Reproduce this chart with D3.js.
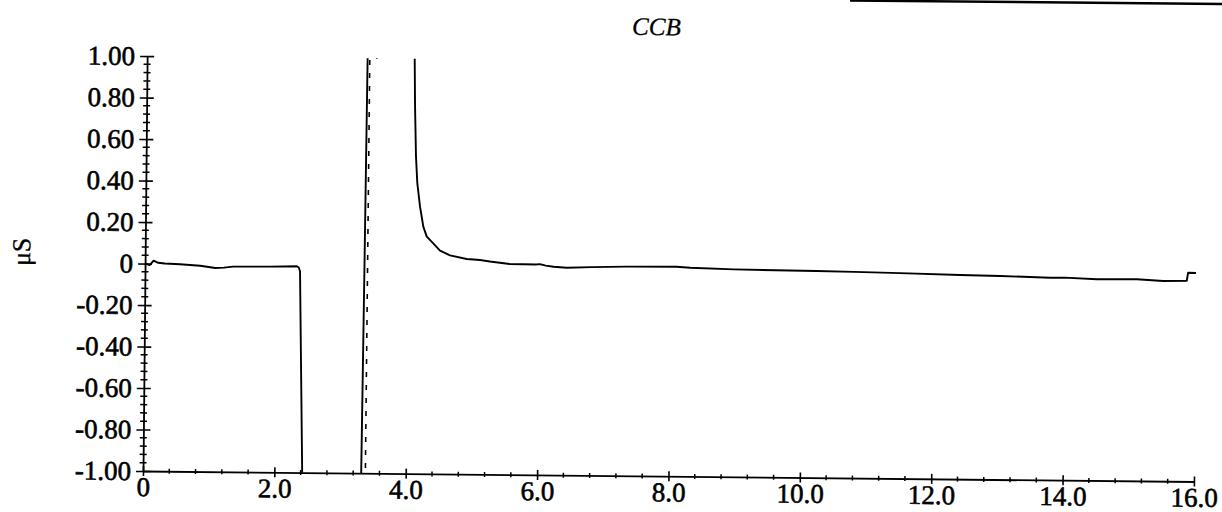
<!DOCTYPE html>
<html><head><meta charset="utf-8">
<script src="https://cdn.jsdelivr.net/npm/d3@7"></script>
<style>html,body{margin:0;padding:0;background:#fff;overflow:hidden}</style>
</head><body><svg id="c" width="1222" height="512"></svg>
<script>
const title = "CCB";
const yLabel = "μS";
const xTickValues = [0, 2, 4, 6, 8, 10, 12, 14, 16];
const xTickLabels = ["0", "2.0", "4.0", "6.0", "8.0", "10.0", "12.0", "14.0", "16.0"];
const yTickValues = [1, 0.8, 0.6, 0.4, 0.2, 0, -0.2, -0.4, -0.6, -0.8, -1];
const yTickLabels = ["1.00", "0.80", "0.60", "0.40", "0.20", "0", "-0.20", "-0.40", "-0.60", "-0.80", "-1.00"];

// solid trace (time in min, conductivity in µS); values beyond ±1 are clipped
const solidTime = [0, 0.07, 0.13, 0.2, 0.3, 0.53, 0.84, 1.07, 1.2, 1.34, 1.9, 2.31, 2.34, 2.36, 2.43, 3.32, 3.34, 3.36,
  4.06, 4.073, 4.086, 4.108, 4.132, 4.177, 4.23, 4.284, 4.384, 4.488, 4.641, 4.896, 5.098, 5.25, 5.55, 5.95, 6.01, 6.1,
  6.22, 6.42, 6.8, 7.33, 8.09, 8.3, 8.96, 9.6, 10.22, 10.8, 11.49, 12.41, 13.02, 13.78, 14.0, 14.49, 15.1, 15.5, 15.86, 15.88, 16.0];
const solidValue = [0.0, -0.008, 0.014, 0.004, 0.001, -0.002, -0.008, -0.018, -0.016, -0.011, -0.009, -0.006, -0.012, -0.03, -1.1, -1.1, -0.02, 1.2,
  1.2, 1.01, 0.769, 0.528, 0.4, 0.287, 0.191, 0.143, 0.111, 0.076, 0.054, 0.037, 0.033, 0.026, 0.0155, 0.014, 0.016, 0.009,
  0.004, 0.0, 0.004, 0.008, 0.01, 0.006, 0.0, -0.002, -0.004, -0.006, -0.01, -0.016, -0.019, -0.025, -0.024, -0.03, -0.028, -0.035, -0.033, 0.006, 0.005];

// dashed trace (second run), visible only at the peak front
const dashedTime = [3.385, 3.39, 3.51];
const dashedValue = [-1.1, 1.0, 1.0];

const ox = 143, oy = 471, plotW = 1051, plotH = 415, angle = 0.572;
const font = "'Liberation Serif','Times New Roman',serif";

const svg = d3.select("#c");
// scanned page edge at top right
svg.append("line").attr("x1", 850).attr("y1", 0.5).attr("x2", 1222).attr("y2", 4)
  .attr("stroke", "#000").attr("stroke-width", 2.5);

const g = svg.append("g").attr("transform", `translate(${ox},${oy}) rotate(${angle})`);
const x = d3.scaleLinear().domain([0, 16]).range([0, plotW]);
const y = d3.scaleLinear().domain([-1, 1]).range([0, -plotH]);

g.append("defs").append("clipPath").attr("id", "clip")
  .append("rect").attr("x", 0).attr("y", -plotH).attr("width", plotW).attr("height", plotH);

// y axis
const yAxis = d3.axisLeft(y).tickValues(yTickValues).tickFormat((d, i) => yTickLabels[i])
  .tickSize(7).tickPadding(5).tickSizeOuter(0);
const ya = g.append("g").call(yAxis);
ya.selectAll(".tick line").attr("x1", 7).attr("stroke-width", 1.6);
ya.select(".domain").attr("stroke-width", 1.8);
ya.selectAll("text").attr("font-family", font).attr("font-size", 27).attr("fill", "#000")
  .attr("stroke", "#000").attr("stroke-width", 0.6);
const yMinor = d3.range(-50, 51, 2).map(v => v / 50).filter(v => Math.abs(v * 5 - Math.round(v * 5)) > 1e-6);
g.append("g").selectAll("line").data(yMinor).join("line")
  .attr("x1", -3.5).attr("x2", 3.5).attr("y1", d => y(d)).attr("y2", d => y(d))
  .attr("stroke", "#000").attr("stroke-width", 1.5);

// x axis
const xAxis = d3.axisBottom(x).tickValues(xTickValues).tickFormat((d, i) => xTickLabels[i])
  .tickSize(5).tickPadding(1).tickSizeOuter(0);
const xa = g.append("g").call(xAxis);
xa.selectAll(".tick line").attr("y1", -5).attr("stroke-width", 1.6);
xa.select(".domain").attr("stroke-width", 1.8);
xa.selectAll("text").attr("font-family", font).attr("font-size", 27).attr("fill", "#000")
  .attr("stroke", "#000").attr("stroke-width", 0.6);
const xMinor = d3.range(0, 41).map(v => v * 0.4).filter(v => Math.abs(v / 2 - Math.round(v / 2)) > 1e-6);
g.append("g").selectAll("line").data(xMinor).join("line")
  .attr("x1", d => x(d)).attr("x2", d => x(d)).attr("y1", -2.5).attr("y2", 2.5)
  .attr("stroke", "#000").attr("stroke-width", 1.5);

// traces
const line = d3.line().x(d => x(d[0])).y(d => y(d[1]));
g.append("path").datum(solidTime.map((t, i) => [t, solidValue[i]]))
  .attr("d", line).attr("fill", "none").attr("stroke", "#000").attr("stroke-width", 1.9)
  .attr("stroke-linejoin", "round").attr("clip-path", "url(#clip)");
g.append("path").datum(dashedTime.map((t, i) => [t, dashedValue[i]]))
  .attr("d", line).attr("fill", "none").attr("stroke", "#000").attr("stroke-width", 1.6)
  .attr("stroke-dasharray", "5,8").attr("clip-path", "url(#clip)");

// title
g.append("text").attr("x", 509).attr("y", -441).attr("text-anchor", "middle")
  .attr("font-family", font).attr("font-style", "italic").attr("font-size", 25)
  .attr("stroke", "#000").attr("stroke-width", 0.3).text(title);

// y label
g.append("text").attr("transform", "translate(-115,-218) rotate(-90)").attr("text-anchor", "middle")
  .attr("font-family", font).attr("font-size", 26).attr("stroke", "#000").attr("stroke-width", 0.3).text(yLabel);
</script></body></html>
